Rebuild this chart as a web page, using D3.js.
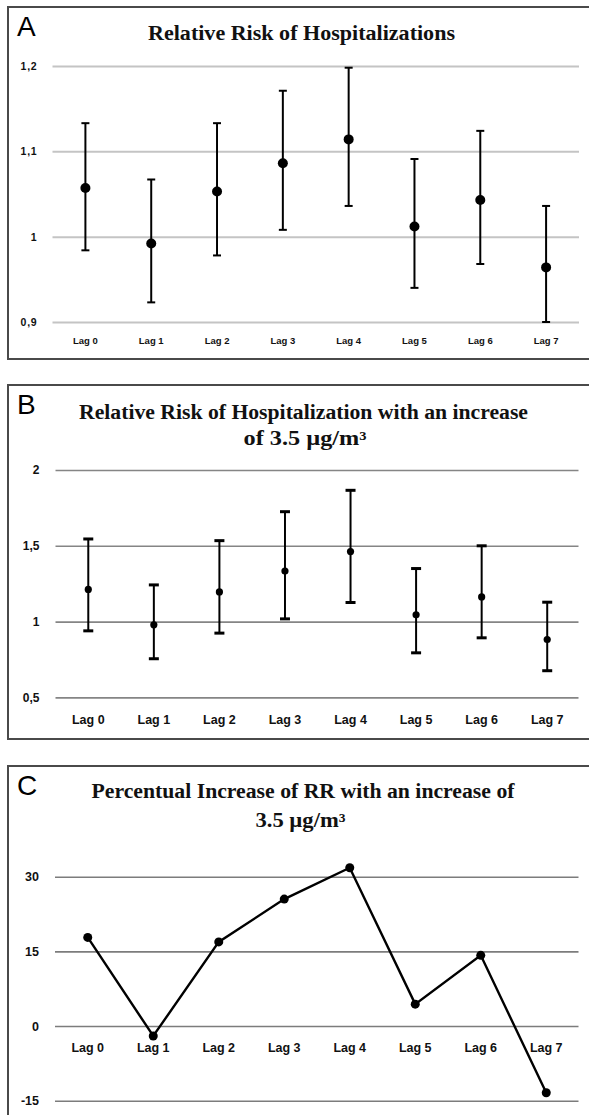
<!DOCTYPE html>
<meta charset="utf-8">
<style>
  body { margin: 0; background: #fff; }
  .tick text { font-family: "Liberation Sans", Arial, sans-serif; font-weight: bold; fill: #111; }
  .ttl { font-family: "Liberation Serif", "Times New Roman", serif; font-weight: bold; fill: #111; }
  .letter { font-family: "Liberation Sans", Arial, sans-serif; font-size: 28px; fill: #000; }
</style>
<body>
<script src="https://d3js.org/d3.v7.min.js"></script>
<script>
var lags = ["Lag 0", "Lag 1", "Lag 2", "Lag 3", "Lag 4", "Lag 5", "Lag 6", "Lag 7"];

// panel A: relative risk with 95% CI
var rrEst  = [1.057, 0.992, 1.053, 1.086, 1.114, 1.012, 1.043, 0.964];
var rrLow  = [0.984, 0.923, 0.978, 1.008, 1.036, 0.940, 0.968, 0.900];
var rrHigh = [1.133, 1.067, 1.133, 1.171, 1.198, 1.091, 1.124, 1.036];
var ticksA = [0.9, 1, 1.1, 1.2];

// panel B: relative risk for an increase of 3.5 ug/m3
var rr35Est  = [1.212, 0.979, 1.196, 1.333, 1.462, 1.045, 1.163, 0.882];
var rr35Low  = [0.939, 0.755, 0.924, 1.018, 1.126, 0.794, 0.893, 0.676];
var rr35High = [1.545, 1.242, 1.534, 1.725, 1.866, 1.350, 1.500, 1.128];
var ticksB = [0.5, 1, 1.5, 2];

// panel C: percent increase of RR
var pctIncrease = [17.8, -2.0, 16.9, 25.5, 31.8, 4.4, 14.2, -13.4];
var ticksC = [-15, 0, 15, 30];

var svg = d3.select("body").append("svg")
    .attr("width", 589)
    .attr("height", 1115);

function comma(d) { return String(d).replace(".", ","); }

function panel(p) {
  var g = svg.append("g");

  // frame (right / bottom edges run off the picture for some panels)
  g.append("rect")
      .attr("x", 8).attr("y", p.top)
      .attr("width", 620).attr("height", p.bottom - p.top)
      .attr("fill", "none")
      .attr("stroke", "#4a4a4a")
      .attr("stroke-width", 2);

  g.append("text").attr("class", "letter")
      .attr("x", 17).attr("y", p.top + 29)
      .text(p.letter);

  p.title.forEach(function(t) {
    g.append("text").attr("class", "ttl")
        .attr("x", t.x - t.w / 2).attr("y", t.y)
        .attr("font-size", 20)
        .attr("textLength", t.w)
        .attr("lengthAdjust", "spacingAndGlyphs")
        .text(t.text);
  });

  var x = d3.scaleBand().domain(lags).range(p.xRange);
  var y = d3.scaleLinear().domain(p.yDomain).range(p.yRange);

  // y axis with gridlines
  var ya = g.append("g")
      .attr("transform", "translate(" + p.xRange[0] + ",0)")
      .call(d3.axisLeft(y).tickValues(p.ticks).tickFormat(comma)
        .tickSizeInner(-(p.gridEnd - p.xRange[0])).tickSizeOuter(0).tickPadding(p.tickPad));
  ya.select(".domain").remove();
  ya.selectAll(".tick line").attr("stroke", p.gridColor).attr("stroke-width", p.gridWidth);
  ya.selectAll(".tick text").attr("font-size", p.yFont).attr("letter-spacing", p.yLs);

  // x axis labels
  var xa = g.append("g")
      .attr("transform", "translate(0," + p.xLabelY + ")")
      .call(d3.axisBottom(x).tickSize(0).tickPadding(0));
  xa.select(".domain").remove();
  xa.selectAll(".tick text").attr("font-size", p.xFont).attr("dy", "0.35em");

  return { g: g, x: x, y: y };
}

function errorBars(c, est, low, high, o) {
  var cx = function(d, i) { return c.x(lags[i]) + c.x.bandwidth() / 2; };
  var rows = est.map(function(v, i) { return { est: v, low: low[i], high: high[i] }; });
  c.g.selectAll(".bar").data(rows).enter().append("line")
      .attr("x1", cx).attr("x2", cx)
      .attr("y1", function(d) { return c.y(d.low); })
      .attr("y2", function(d) { return c.y(d.high); })
      .attr("stroke", "#000").attr("stroke-width", 2);
  ["low", "high"].forEach(function(k) {
    c.g.selectAll(".cap" + k).data(rows).enter().append("line")
        .attr("x1", function(d, i) { return cx(d, i) - o.cap / 2; })
        .attr("x2", function(d, i) { return cx(d, i) + o.cap / 2; })
        .attr("y1", function(d) { return c.y(d[k]); })
        .attr("y2", function(d) { return c.y(d[k]); })
        .attr("stroke", "#000").attr("stroke-width", o.capW);
  });
  c.g.selectAll(".pt").data(rows).enter().append("circle")
      .attr("cx", cx)
      .attr("cy", function(d) { return c.y(d.est); })
      .attr("r", o.r)
      .attr("fill", "#000");
}

// ---- A
var a = panel({
  letter: "A", top: 7, bottom: 359,
  title: [{ text: "Relative Risk of Hospitalizations", x: 301.5, y: 40, w: 307 }],
  xRange: [52.5, 579], gridEnd: 579,
  yDomain: [0.9, 1.2], yRange: [322, 66], ticks: ticksA,
  gridColor: "#c4c4c4", gridWidth: 2, tickPad: 15, yFont: 10.5, yLs: 0.8,
  xLabelY: 341, xFont: 9.5
});
errorBars(a, rrEst, rrLow, rrHigh, { cap: 8, capW: 2, r: 5 });

// ---- B
var b = panel({
  letter: "B", top: 385, bottom: 739,
  title: [{ text: "Relative Risk of Hospitalization with an increase", x: 303.5, y: 419, w: 449 },
          { text: "of 3.5 \u00b5g/m\u00b3", x: 305, y: 445, w: 123 }],
  xRange: [55.5, 580], gridEnd: 578.5,
  yDomain: [0.5, 2], yRange: [697.4, 470], ticks: ticksB,
  gridColor: "#858585", gridWidth: 1.6, tickPad: 16, yFont: 12, yLs: 0,
  xLabelY: 719.5, xFont: 12.5
});
errorBars(b, rr35Est, rr35Low, rr35High, { cap: 10, capW: 3, r: 3.6 });

// ---- C
var c = panel({
  letter: "C", top: 766, bottom: 1130,
  title: [{ text: "Percentual Increase of RR with an increase of", x: 303, y: 798, w: 423 },
          { text: "3.5 \u00b5g/m\u00b3", x: 300.5, y: 827, w: 90 }],
  xRange: [55, 579], gridEnd: 578.5,
  yDomain: [-15, 30], yRange: [1100.7, 876.7], ticks: ticksC,
  gridColor: "#7c7c7c", gridWidth: 1.6, tickPad: 16, yFont: 12.5, yLs: 0,
  xLabelY: 1047.5, xFont: 12.5
});

var line = d3.line()
    .x(function(d, i) { return c.x(lags[i]) + c.x.bandwidth() / 2; })
    .y(function(d) { return c.y(d); });

c.g.append("path")
    .datum(pctIncrease)
    .attr("d", line)
    .attr("fill", "none")
    .attr("stroke", "#000")
    .attr("stroke-width", 2.4);

c.g.selectAll(".pt").data(pctIncrease).enter().append("circle")
    .attr("cx", function(d, i) { return c.x(lags[i]) + c.x.bandwidth() / 2; })
    .attr("cy", function(d) { return c.y(d); })
    .attr("r", 4.5)
    .attr("fill", "#000");
</script>
</body>
